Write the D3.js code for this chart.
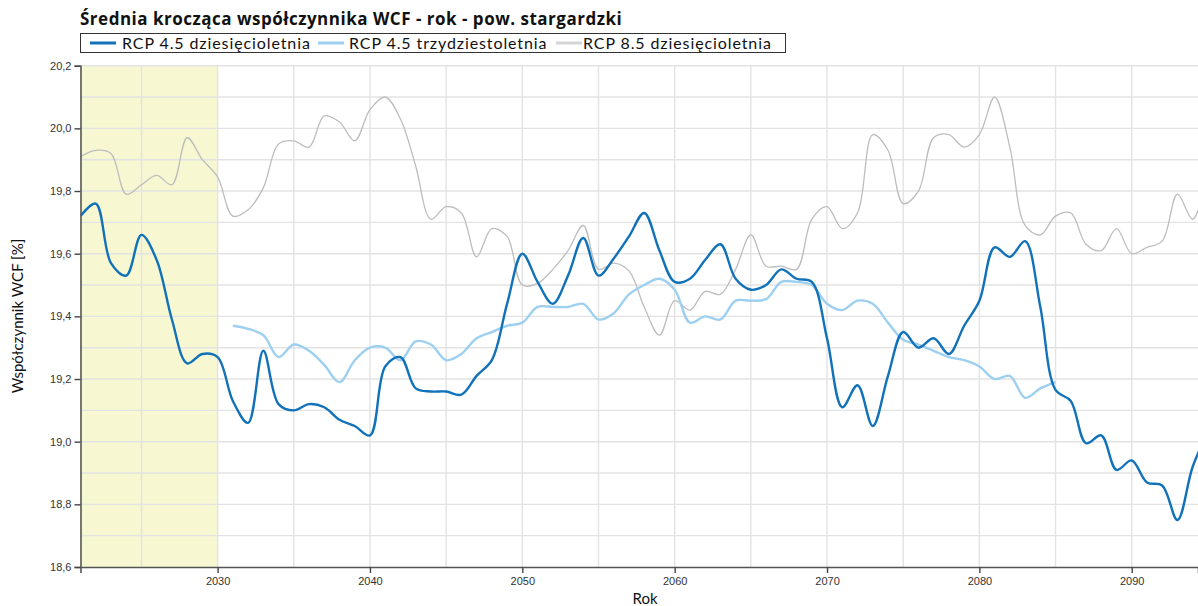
<!DOCTYPE html>
<html>
<head>
<meta charset="utf-8">
<script src="https://cdn.jsdelivr.net/npm/d3@7"></script>
<style>
  html, body { margin: 0; padding: 0; background: #fff; }
  svg { display: block; }
</style>
</head>
<body>
<svg id="chart" width="1198" height="606"></svg>
<script>
// Yearly moving-average values of the WCF coefficient
const years45dec = d3.range(2021, 2096);
const rcp45dec = [
  19.72, 19.76, 19.57, 19.53, 19.66, 19.58, 19.39, 19.25, 19.28, 19.27,
  19.13, 19.06, 19.29, 19.12, 19.10, 19.12, 19.11, 19.07, 19.05, 19.02,
  19.24, 19.27, 19.17, 19.16, 19.16, 19.15, 19.21, 19.26, 19.44, 19.60,
  19.51, 19.44, 19.53, 19.65, 19.53, 19.585, 19.655, 19.73, 19.61, 19.51,
  19.52, 19.58, 19.63, 19.52, 19.485, 19.50, 19.55, 19.52, 19.51, 19.33,
  19.11, 19.18, 19.05, 19.21, 19.35, 19.30, 19.33, 19.28, 19.37, 19.45,
  19.62, 19.59, 19.64, 19.43, 19.165, 19.13, 18.995, 19.02, 18.91, 18.94,
  18.87, 18.86, 18.75, 18.92, 19.03
];

const years45tri = d3.range(2031, 2086);
const rcp45tri = [
  19.37, 19.36, 19.34, 19.27, 19.31, 19.29, 19.245, 19.19, 19.26, 19.30,
  19.30, 19.26, 19.32, 19.31, 19.26, 19.28, 19.33, 19.35, 19.37, 19.38,
  19.43, 19.43, 19.43, 19.44, 19.39, 19.41, 19.47, 19.50, 19.52, 19.485,
  19.38, 19.40, 19.39, 19.45, 19.45, 19.455, 19.51, 19.51, 19.50, 19.44,
  19.42, 19.45, 19.44, 19.38, 19.325, 19.31, 19.29, 19.27, 19.26, 19.24,
  19.20, 19.21, 19.14, 19.17, 19.19
];

const years85dec = d3.range(2021, 2096);
const rcp85dec = [
  19.91, 19.93, 19.92, 19.79, 19.82, 19.85, 19.82, 19.97, 19.90, 19.845,
  19.72, 19.74, 19.81, 19.95, 19.96, 19.94, 20.04, 20.02, 19.96, 20.06,
  20.10, 20.03, 19.88, 19.71, 19.75, 19.73, 19.59, 19.68, 19.655, 19.50,
  19.505, 19.55, 19.61, 19.69, 19.55, 19.57, 19.545, 19.43, 19.34, 19.45,
  19.42, 19.48, 19.47, 19.55, 19.66, 19.56, 19.56, 19.55, 19.71, 19.75,
  19.68, 19.73, 19.98, 19.93, 19.76, 19.80, 19.97, 19.98, 19.94, 19.98,
  20.10, 19.94, 19.69, 19.66, 19.72, 19.73, 19.63, 19.61, 19.68, 19.60,
  19.62, 19.64, 19.79, 19.71, 19.86
];

const seriesNames = ["RCP 4.5 dziesięcioletnia", "RCP 4.5 trzydziestoletnia", "RCP 8.5 dziesięcioletnia"];
const yTicks = [18.6, 18.8, 19.0, 19.2, 19.4, 19.6, 19.8, 20.0, 20.2];
const xTicks = [2030, 2040, 2050, 2060, 2070, 2080, 2090];
const referencePeriod = [2021, 2030];

const titleText = "Średnia krocząca współczynnika WCF - rok - pow. stargardzki";
const xLabel = "Rok";
const yLabel = "Współczynnik WCF [%]";

const svg = d3.select("#chart");
const plot = { left: 80.5, right: 1198, top: 65.7, bottom: 567 };

const x = d3.scaleLinear().domain([2021, 2094.35]).range([plot.left, plot.right]);
const y = d3.scaleLinear().domain([18.6, 20.2]).range([plot.bottom, plot.top]);

svg.append("defs").append("clipPath").attr("id", "plotClip")
  .append("rect")
  .attr("x", plot.left).attr("y", plot.top - 2)
  .attr("width", plot.right - plot.left).attr("height", plot.bottom - plot.top + 4);

// reference period band
svg.append("rect")
  .attr("x", x(referencePeriod[0]))
  .attr("y", y(20.2))
  .attr("width", x(referencePeriod[1]) - x(referencePeriod[0]))
  .attr("height", y(18.6) - y(20.2))
  .attr("fill", "#f7f7d2");

// grid
const grid = svg.append("g").attr("stroke", "#e3e3e3").attr("stroke-width", 1.4);
grid.selectAll("line.h")
  .data(d3.range(18.7, 20.25, 0.1))
  .join("line")
  .attr("x1", plot.left).attr("x2", plot.right)
  .attr("y1", d => y(d)).attr("y2", d => y(d));
grid.selectAll("line.v")
  .data(d3.range(2025, 2095, 5))
  .join("line")
  .attr("y1", plot.top).attr("y2", plot.bottom)
  .attr("x1", d => x(d)).attr("x2", d => x(d));

// series lines
const lines = svg.append("g").attr("clip-path", "url(#plotClip)");
function drawSeries(yrs, vals, color, width) {
  const pts = yrs.map((yr, i) => [yr, vals[i]]);
  const gen = d3.line()
    .x(d => x(d[0])).y(d => y(d[1]))
    .curve(d3.curveCatmullRom.alpha(0.5));
  lines.append("path")
    .attr("d", gen(pts))
    .attr("fill", "none")
    .attr("stroke", color)
    .attr("stroke-width", width)
    .attr("stroke-linejoin", "round");
}
const colors = ["#1172b9", "#9dd0f0", "#bdbdbd"];
drawSeries(years85dec, rcp85dec, colors[2], 1.3);
drawSeries(years45tri, rcp45tri, colors[1], 2.4);
drawSeries(years45dec, rcp45dec, colors[0], 2.4);

// axes
const fmt = d => d3.format(".1f")(d).replace(".", ",");
const yAxis = svg.append("g")
  .attr("transform", `translate(${plot.left},0)`)
  .call(d3.axisLeft(y).tickValues(yTicks).tickFormat(fmt).tickSize(6).tickPadding(3));
const xAxis = svg.append("g")
  .attr("transform", `translate(0,${plot.bottom})`)
  .call(d3.axisBottom(x).tickValues(xTicks).tickFormat(d3.format("d")).tickSize(6).tickPadding(4));
[yAxis, xAxis].forEach(a => {
  a.select(".domain").attr("stroke", "#555").attr("stroke-width", 1.6);
  a.selectAll(".tick line").attr("stroke", "#444").attr("stroke-width", 1.4);
  a.selectAll(".tick text")
    .attr("fill", "#333")
    .style("font-family", "'Liberation Sans', Arial, sans-serif")
    .style("font-size", "11px");
});

// title
svg.append("text")
  .attr("x", 80).attr("y", 25)
  .style("font-family", "'Open Sans', Lato, sans-serif")
  .style("font-weight", "bold")
  .style("font-size", "17px")
  .style("letter-spacing", "0.5px")
  .attr("fill", "#111")
  .text(titleText);

// legend
const legend = svg.append("g");
legend.append("rect")
  .attr("x", 80.5).attr("y", 33.5).attr("width", 705).attr("height", 19)
  .attr("fill", "#fff").attr("stroke", "#333").attr("stroke-width", 1);
const legendPos = [
  { sx: 90, tx: 122 },
  { sx: 318, tx: 349 },
  { sx: 556, tx: 583 }
];
const legendColors = ["#1172b9", "#9dd0f0", "#d4d4d4"];
seriesNames.forEach((name, i) => {
  legend.append("line")
    .attr("x1", legendPos[i].sx).attr("x2", legendPos[i].sx + 26)
    .attr("y1", 43).attr("y2", 43)
    .attr("stroke", legendColors[i]).attr("stroke-width", 3);
  legend.append("text")
    .attr("x", legendPos[i].tx).attr("y", 48.5)
    .style("font-family", "Lato, 'Open Sans', sans-serif")
    .style("font-size", "16px")
    .style("letter-spacing", "0.9px")
    .attr("fill", "#111")
    .text(name);
});

// axis labels
svg.append("text")
  .attr("x", 645).attr("y", 604)
  .attr("text-anchor", "middle")
  .style("font-family", "Lato, 'Open Sans', sans-serif")
  .style("font-size", "15px")
  .attr("fill", "#111")
  .text(xLabel);
svg.append("text")
  .attr("transform", `translate(23,316) rotate(-90)`)
  .attr("text-anchor", "middle")
  .style("font-family", "Lato, 'Open Sans', sans-serif")
  .style("font-size", "15px")
  .attr("fill", "#111")
  .text(yLabel);
</script>
</body>
</html>
